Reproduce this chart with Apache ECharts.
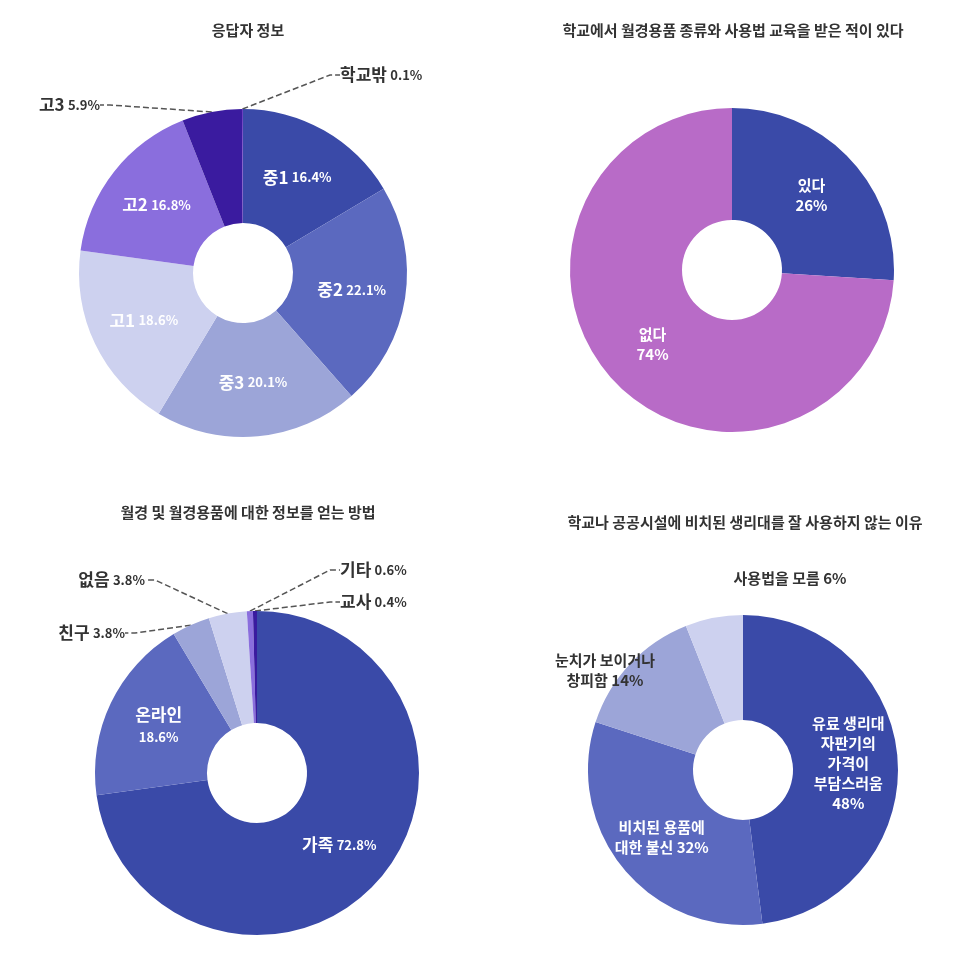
<!DOCTYPE html>
<html>
<head>
<meta charset="utf-8">
<script src="https://cdn.jsdelivr.net/npm/echarts@6/dist/echarts.min.js"></script>
<style>
  html, body { margin: 0; padding: 0; background: #fff; }
  #main { width: 970px; height: 970px; }
</style>
</head>
<body>
<div id="main"></div>
<script>
const C = ["#3a4aa8", "#5b69bf", "#9ca5d8", "#cdd1ef", "#8a6edd", "#3a1b9f", "#6a3fc0"];

// 응답자 정보
const gradeNames = ["중1", "중2", "중3", "고1", "고2", "고3", "학교밖"];
const gradeValues = [16.4, 22.1, 20.1, 18.6, 16.8, 5.9, 0.1];
// 월경용품 교육
const eduNames = ["있다", "없다"];
const eduValues = [26, 74];
// 정보 얻는 방법
const infoNames = ["가족", "온라인", "친구", "없음", "기타", "교사"];
const infoValues = [72.8, 18.6, 3.8, 3.8, 0.6, 0.4];
// 사용하지 않는 이유
const reasonNames = ["유료 생리대\n자판기의\n가격이\n부담스러움\n", "비치된 용품에\n대한 불신 ", "눈치가 보이거나\n창피함 ", "사용법을 모름 "];
const reasonValues = [48, 32, 14, 6];

const font = "Noto Sans CJK KR";
function richFor(col) {
  return {
    n: { fontSize: 17, fontWeight: "bold", fontFamily: font, color: col, lineHeight: 22 },
    v: { fontSize: 13, fontWeight: "bold", fontFamily: font, color: col, lineHeight: 22 }
  };
}
const dashLine = { show: true, lineStyle: { color: "#555", type: "dashed", width: 1.5 }, length: 10, length2: 10 };

function inLabel() {
  return { show: true, position: "inside", rich: richFor("#fff"),
    formatter: p => "{n|" + p.name + "} {v|" + p.value + "%}" };
}
function outLabel() {
  return { show: true, position: "outside", rich: richFor("#333"),
    formatter: p => "{n|" + p.name + "} {v|" + p.value + "%}" };
}

function build(names, values, colors, labelFn) {
  return names.map((n, i) => {
    const d = { name: n, value: values[i], itemStyle: { color: colors[i] } };
    const l = labelFn(i);
    d.label = l.label;
    d.labelLine = l.line || { show: false };
    return d;
  });
}

const grades = build(gradeNames, gradeValues, [C[0], C[1], C[2], C[3], C[4], C[5], C[6]], i =>
  i < 5 ? { label: inLabel() } : { label: outLabel(), line: dashLine });
const edu = build(eduNames, eduValues, [C[0], "#b86bc7"], i => ({
  label: { show: true, position: "inside", color: "#fff", fontSize: 15, fontWeight: "bold", fontFamily: font,
    lineHeight: 20, formatter: p => p.name + "\n" + p.value + "%" }
}));
const info = build(infoNames, infoValues, [C[0], C[1], C[2], C[3], C[4], C[5]], i => {
  if (i === 0) return { label: inLabel() };
  if (i === 1) return { label: { show: true, position: "inside", rich: richFor("#fff"),
    formatter: p => "{n|" + p.name + "}\n{v|" + p.value + "%}" } };
  return { label: outLabel(), line: dashLine };
});
const reasons = build(reasonNames, reasonValues, [C[0], C[1], C[2], C[3]], i => {
  const base = { show: true, fontSize: 15, fontWeight: "bold", fontFamily: font, lineHeight: 20,
    formatter: p => p.name + p.value + "%" };
  if (i < 2) return { label: Object.assign({}, base, { position: "inside", color: "#fff" }) };
  return { label: Object.assign({}, base, { position: "outside", color: "#333" }) };
});

const titleStyle = { fontSize: 15, fontWeight: "bold", color: "#333", fontFamily: font };

const option = {
  animation: false,
  title: [
    { text: "응답자 정보", left: 243, top: 18, textAlign: "center", textStyle: titleStyle },
    { text: "학교에서 월경용품 종류와 사용법 교육을 받은 적이 있다", left: 728, top: 18, textAlign: "center", textStyle: titleStyle },
    { text: "월경 및 월경용품에 대한 정보를 얻는 방법", left: 243, top: 500, textAlign: "center", textStyle: titleStyle },
    { text: "학교나 공공시설에 비치된 생리대를 잘 사용하지 않는 이유", left: 740, top: 510, textAlign: "center", textStyle: titleStyle }
  ],
  series: [
    { type: "pie", center: [243, 273], radius: [50, 164], startAngle: 90, data: grades,
      labelLayout: p => {
        if (p.dataIndex === 5) return { x: 100, y: 105, align: "right" };
        if (p.dataIndex === 6) return { x: 340, y: 75, align: "left" };
      } },
    { type: "pie", center: [732, 270], radius: [50, 162], startAngle: 90, data: edu },
    { type: "pie", center: [257, 773], radius: [50, 162], startAngle: 90, data: info,
      labelLayout: p => {
        if (p.dataIndex === 2) return { x: 125, y: 633, align: "right" };
        if (p.dataIndex === 3) return { x: 145, y: 580, align: "right" };
        if (p.dataIndex === 4) return { x: 340, y: 570, align: "left" };
        if (p.dataIndex === 5) return { x: 340, y: 602, align: "left" };
      } },
    { type: "pie", center: [743, 770], radius: [50, 155], startAngle: 90, data: reasons,
      labelLayout: p => {
        if (p.dataIndex === 2) return { x: 605, y: 670, align: "center" };
        if (p.dataIndex === 3) return { x: 790, y: 578, align: "center" };
      } }
  ]
};

const chart = echarts.init(document.getElementById("main"));
chart.setOption(option);
</script>
</body>
</html>
